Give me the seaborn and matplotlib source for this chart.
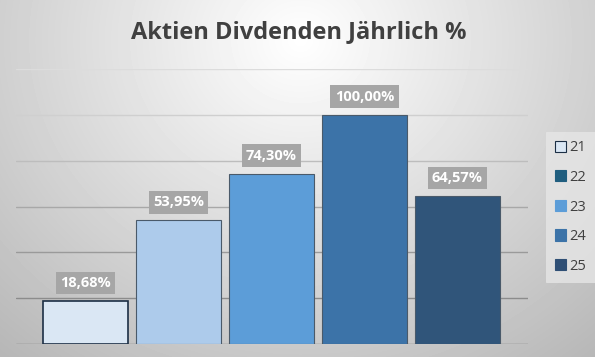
import numpy as np
import pandas as pd
import matplotlib
matplotlib.use("Agg")
import matplotlib.pyplot as plt
import seaborn as sns

# Daten
jahre = ["21", "22", "23", "24", "25"]
dividenden = [18.68, 53.95, 74.30, 100.00, 64.57]
labels = ["18,68%", "53,95%", "74,30%", "100,00%", "64,57%"]

bar_farben = ["#DAE7F4", "#ADCBEB", "#5C9DD8", "#3C73A8", "#30557A"]
legende_farben = ["#DAE7F4", "#205E7F", "#5C9DD8", "#3C73A8", "#2F4F75"]

df = pd.DataFrame({"Jahr": jahre, "Dividende": dividenden})

sns.set_theme(style="white")
plt.rcParams["font.family"] = ["Open Sans", "DejaVu Sans"]

fig = plt.figure(figsize=(5.95, 3.57), dpi=100)

# Hintergrund mit radialem Verlauf
bg = fig.add_axes([0, 0, 1, 1], zorder=-10)
yy, xx = np.mgrid[0:357, 0:595]
r = np.sqrt(((xx - 300) / 420.0) ** 2 + ((yy - 40) / 380.0) ** 2)
grad = np.clip(1.0 - 0.26 * r, 0, 1)
bg.imshow(grad, cmap="gray", vmin=0, vmax=1, aspect="auto",
          extent=[0, 1, 0, 1], origin="upper")
bg.axis("off")

ax = fig.add_axes([16 / 595, 13 / 357, 512 / 595, 275 / 357])
ax.patch.set_alpha(0)

sns.barplot(data=df, x="Jahr", y="Dividende", hue="Jahr", palette=bar_farben,
            width=0.915, dodge=False, legend=False, ax=ax, saturation=1,
            edgecolor="#4A5A6A", linewidth=0.8, zorder=3)
ax.patches[0].set_edgecolor("#1C2F45")
ax.patches[0].set_linewidth(1.2)

ax.set_ylim(0, 120)
ax.set_xlim(-0.75, 4.76)
ax.set_yticks(np.arange(0, 121, 20))
ax.set_yticklabels([])
ax.set_xticks([])
ax.set_xlabel("")
ax.set_ylabel("")
for s in ax.spines.values():
    s.set_visible(False)
ax.yaxis.grid(True, zorder=0)
grid_farben = ["#7F7F7F", "#8C8C8C", "#9A9A9A", "#A8A8A8", "#BDBDBD", "#CFCFCF", "#DCDCDC"]
for gl, c in zip(ax.get_ygridlines(), grid_farben):
    gl.set_color(c)
    gl.set_linewidth(1.0)
ax.tick_params(length=0)

for i, (v, t) in enumerate(zip(dividenden, labels)):
    ax.annotate(t, (i, v), xytext=(0, 8), textcoords="offset points",
                ha="center", va="bottom", color="white", fontsize=10.5,
                fontweight="bold", zorder=5,
                bbox=dict(boxstyle="square,pad=0.3", fc="#A6A6A6", ec="none"))

fig.text(0.502, 0.91, "Aktien Divdenden Jährlich %", ha="center", va="center",
         fontsize=17, fontweight="bold", color="#404040")

# Legende
handles = [plt.Rectangle((0, 0), 1, 1, fc=c, ec="#1C2F45" if i == 0 else c, lw=0.8)
           for i, c in enumerate(legende_farben)]
leg = fig.legend(handles, jahre, loc="center left", bbox_to_anchor=(0.905, 0.42),
                 frameon=True, fontsize=10.5, handlelength=0.8, handleheight=0.8,
                 handletextpad=0.2, labelspacing=1.0, borderpad=0.6)
leg.get_frame().set_facecolor("#E6E6E6")
leg.get_frame().set_edgecolor("#E6E6E6")
leg.get_frame().set_linewidth(0.6)
leg.get_frame().set_boxstyle("square", pad=0)
for t in leg.get_texts():
    t.set_color("#404040")

fig.savefig("out.png", dpi=100)
